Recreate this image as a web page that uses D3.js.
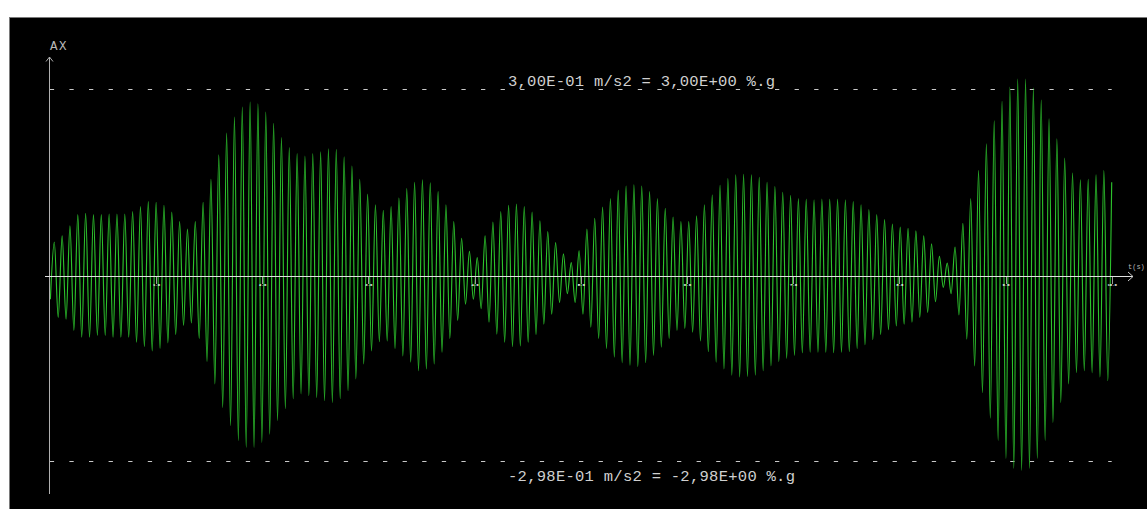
<!DOCTYPE html>
<html>
<head>
<meta charset="utf-8">
<script src="https://cdn.jsdelivr.net/npm/d3@7"></script>
<style>
  html, body { margin: 0; padding: 0; background: #ffffff; }
  svg { display: block; }
</style>
</head>
<body>
<svg id="chart" width="1147" height="509"></svg>
<script>
// Acceleration record AX (m/s2): positive peak of each cycle
const peaks = [
  0.054,0.064,0.080,0.098,0.100,0.098,0.098,0.099,0.099,0.099,0.103,0.111,0.119,0.118,0.113,0.102,0.087,0.075,0.087,0.118,0.155,0.194,
  0.229,0.255,0.271,0.279,0.276,0.263,0.245,0.222,0.206,0.196,0.192,0.196,0.199,0.204,0.203,0.191,0.176,0.155,0.131,0.114,0.105,0.111,0.125,
  0.140,0.150,0.154,0.149,0.135,0.114,0.087,0.060,0.039,0.029,0.064,0.086,0.103,0.113,0.115,0.111,0.102,0.088,0.071,0.053,0.035,0.021,0.040,
  0.075,0.092,0.110,0.124,0.137,0.144,0.146,0.144,0.135,0.124,0.108,0.094,0.087,0.087,0.096,0.114,0.130,0.145,0.156,0.162,0.163,0.162,0.158,
  0.150,0.143,0.134,0.129,0.124,0.123,0.122,0.123,0.123,0.123,0.122,0.119,0.114,0.106,0.098,0.090,0.083,0.078,0.076,0.072,0.064,0.051,0.031,
  0.020,0.046,0.084,0.124,0.169,0.212,0.249,0.280,0.303,0.316,0.316,0.302,0.282,0.252,0.220,0.189,0.165,0.154,0.155,0.162,0.169,0.150
];

// Negative peak that precedes each positive peak
const troughs = [
  -0.038,-0.067,-0.070,-0.088,-0.099,-0.099,-0.096,-0.096,-0.099,-0.099,-0.099,-0.107,-0.114,-0.121,-0.117,-0.108,-0.095,-0.080,-0.076,-0.101,-0.138,-0.174,
  -0.212,-0.241,-0.265,-0.276,-0.276,-0.268,-0.255,-0.233,-0.214,-0.198,-0.190,-0.193,-0.196,-0.201,-0.204,-0.198,-0.185,-0.166,-0.142,-0.121,-0.106,-0.105,-0.117,
  -0.129,-0.139,-0.153,-0.150,-0.142,-0.123,-0.101,-0.072,-0.046,-0.038,-0.053,-0.075,-0.094,-0.107,-0.114,-0.113,-0.107,-0.095,-0.078,-0.062,-0.043,-0.029,-0.043,
  -0.062,-0.083,-0.101,-0.117,-0.131,-0.140,-0.144,-0.146,-0.140,-0.128,-0.115,-0.101,-0.088,-0.085,-0.091,-0.105,-0.122,-0.139,-0.150,-0.160,-0.163,-0.162,-0.160,
  -0.153,-0.145,-0.138,-0.133,-0.128,-0.124,-0.123,-0.123,-0.123,-0.124,-0.123,-0.122,-0.117,-0.111,-0.103,-0.095,-0.087,-0.081,-0.078,-0.075,-0.067,-0.059,-0.042,
  -0.019,-0.029,-0.063,-0.102,-0.145,-0.188,-0.229,-0.265,-0.294,-0.310,-0.313,-0.310,-0.294,-0.265,-0.236,-0.204,-0.174,-0.156,-0.153,-0.156,-0.163,-0.169
];

// Timing of the oscillation (s)
const firstPeakTime = 0.0424;
const cyclePeriod = 0.07376;

// Time axis and reference levels
const timeDomain = [0, 10];
const tickTimes = [1, 2, 3, 4, 5, 6, 7, 8, 9, 10];
const levelMax = 0.300;   // m/s2
const levelMin = -0.298;  // m/s2
const labelMax = "3,00E-01 m/s2 = 3,00E+00 %.g";
const labelMin = "-2,98E-01 m/s2 = -2,98E+00 %.g";
const yTitle = "AX";
const xTitle = "t(s)";

// ---------------------------------------------------------------
const svg = d3.select("#chart");

// black plot panel with grey frame
svg.append("rect")
  .attr("x", 9.5).attr("y", 17.5)
  .attr("width", 1150).attr("height", 500)
  .attr("fill", "#000").attr("stroke", "#7a7a7a").attr("stroke-width", 1);

const x = d3.scaleLinear().domain(timeDomain).range([49.8, 1111.7]);
const y = d3.scaleLinear().domain([levelMin, levelMax]).range([461, 89]);

// build the alternating sequence of extremes
const n = Math.min(peaks.length, troughs.length);
const samples = [];
for (let i = 0; i < n; i++) {
  samples.push({ t: firstPeakTime + (i - 0.5) * cyclePeriod, v: troughs[i] });
  samples.push({ t: firstPeakTime + i * cyclePeriod, v: peaks[i] });
}

const axisY = Math.round(y(0)) + 0.5;
const x0 = x(0);

// reference level lines
const mono = "'Liberation Mono', 'DejaVu Sans Mono', monospace";
[levelMax, levelMin].forEach(lv => {
  svg.append("line")
    .attr("x1", x(timeDomain[0])).attr("x2", x(timeDomain[1]))
    .attr("y1", Math.round(y(lv)) + 0.5).attr("y2", Math.round(y(lv)) + 0.5)
    .attr("stroke", "#c8c8c8").attr("stroke-width", 1)
    .attr("stroke-dasharray", "4.3,15.3");
});

svg.append("text")
  .attr("x", 508).attr("y", y(levelMax) - 3.5)
  .attr("font-family", mono).attr("font-size", 15.5)
  .attr("fill", "#d0d0d0")
  .attr("textLength", 267).attr("lengthAdjust", "spacing")
  .text(labelMax);

svg.append("text")
  .attr("x", 508).attr("y", y(levelMin) + 19.5)
  .attr("font-family", mono).attr("font-size", 15.5)
  .attr("fill", "#d0d0d0")
  .attr("textLength", 287).attr("lengthAdjust", "spacing")
  .text(labelMin);

// signal trace
const line = d3.line()
  .x(d => x(d.t))
  .y(d => y(d.v))
  .curve(d3.curveMonotoneX);

svg.append("path")
  .datum(samples)
  .attr("d", line)
  .attr("fill", "none")
  .attr("stroke", "#2cc22c")
  .attr("stroke-width", 1.15);

// vertical axis with arrow
const yAxisX = Math.round(x0) - 0.5;
svg.append("line")
  .attr("x1", yAxisX).attr("x2", yAxisX)
  .attr("y1", 57).attr("y2", 494)
  .attr("stroke", "#b0b0b0").attr("stroke-width", 1);
svg.append("path")
  .attr("d", `M${yAxisX - 3.5},${61.5} L${yAxisX},${57} L${yAxisX + 3.5},${61.5}`)
  .attr("fill", "none").attr("stroke", "#b0b0b0").attr("stroke-width", 1);
svg.append("text")
  .attr("x", yAxisX + 0.5).attr("y", 50)
  .attr("font-family", mono).attr("font-size", 12.5)
  .attr("fill", "#b8b8b8")
  .attr("letter-spacing", 1.5)
  .text(yTitle);

// horizontal axis with arrow
svg.append("line")
  .attr("x1", 45).attr("x2", 1133)
  .attr("y1", axisY).attr("y2", axisY)
  .attr("stroke", "#e0e0e0").attr("stroke-width", 1);
svg.append("path")
  .attr("d", `M1128,${axisY - 4.5} L1133,${axisY} L1128,${axisY + 4.5}`)
  .attr("fill", "none").attr("stroke", "#c8c8c8").attr("stroke-width", 1);
svg.append("text")
  .attr("x", 1128).attr("y", axisY - 8)
  .attr("font-family", mono).attr("font-size", 7)
  .attr("fill", "#b8b8b8")
  .text(xTitle);

// time ticks
const xAxis = d3.axisBottom(x)
  .tickValues(tickTimes)
  .tickSize(7)
  .tickPadding(0)
  .tickFormat(d3.format(".1f"));
const gx = svg.append("g")
  .attr("transform", `translate(0,${axisY})`)
  .call(xAxis);
gx.select(".domain").remove();
gx.selectAll(".tick line").attr("stroke", "#9a9a9a").attr("shape-rendering", "crispEdges");
gx.selectAll(".tick text")
  .attr("fill", "#ffffff")
  .attr("font-family", mono)
  .attr("font-weight", "bold")
  .attr("font-size", 4);
</script>
</body>
</html>
